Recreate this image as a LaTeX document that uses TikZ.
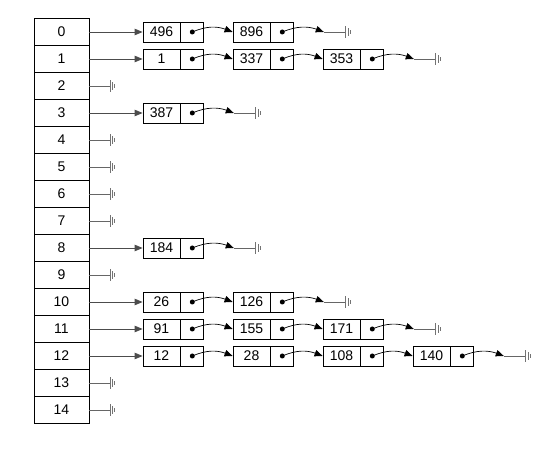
\documentclass[tikz,border=0pt]{standalone}
\usepackage{fontspec}
\setmainfont{Liberation Sans}
\usetikzlibrary{arrows.meta, positioning}

\begin{document}
\begin{tikzpicture}[x=1pt, y=1pt,
    cell/.style={draw, line width=0.8pt, minimum width=55pt, minimum height=27pt,
                 inner sep=0pt, font=\fontsize{14}{16}\selectfont},
    valbox/.style={draw, line width=0.8pt, minimum width=37pt, minimum height=20pt,
                   inner sep=0pt, font=\fontsize{14}{16}\selectfont},
    ptrbox/.style={draw, line width=0.8pt, minimum width=23pt, minimum height=20pt, inner sep=0pt},
    head/.style={-{Triangle[length=8pt,width=6.5pt]}, draw=black!70, line width=0.9pt},
    next/.style={-{Triangle[length=8pt,width=6.5pt]}, line width=0.7pt},
    nil/.style={draw=black!60, line width=0.9pt},
    gnd/.pic={\draw[black!55, line width=0.9pt] (0,-6) -- (0,6) (2.2,-4) -- (2.2,4) (4.4,-2) -- (4.4,2);}
  ]
  \useasboundingbox (0,0) rectangle (549,463);

  % hash table
  \foreach \r in {0,...,14}
    \node[cell] (r\r) at (61.5, {431-27*\r}) {\r};

  % empty buckets
  \foreach \r in {2,4,5,6,7,9,13,14} {
    \coordinate (g\r) at ([xshift=21pt]r\r.east);
    \draw[nil] (r\r.east) -- (g\r);
    \pic at (g\r) {gnd};
  }

  % chains
  \foreach \r/\n/\vals in {0/2/{496,896}, 1/3/{1,337,353}, 3/1/{387}, 8/1/{184},
                           10/2/{26,126}, 11/3/{91,155,171}, 12/4/{12,28,108,140}} {
    \foreach \v [count=\k] in \vals {
      \node[valbox] (v\r-\k) at ({161.5+90*(\k-1)}, {431-27*\r}) {\v};
      \node[ptrbox, right=0pt of v\r-\k] (p\r-\k) {};
      \fill (p\r-\k.center) circle (2.5pt);
      \ifnum\k>1
        \pgfmathtruncatemacro\j{\k-1}
        \draw[next] (p\r-\j.center) .. controls +(14,6) and +(-16,6) .. (v\r-\k.west);
      \fi
    }
    \draw[head] (r\r.east) -- (v\r-1.west);
    % null end
    \coordinate (e\r) at ([xshift=41.5pt]p\r-\n.center);
    \coordinate (t\r) at ([xshift=22pt]e\r);
    \draw[next] (p\r-\n.center) .. controls +(14,6) and +(-16,6) .. (e\r);
    \draw[nil] (e\r) -- (t\r);
    \pic at (t\r) {gnd};
  }
\end{tikzpicture}
\end{document}
